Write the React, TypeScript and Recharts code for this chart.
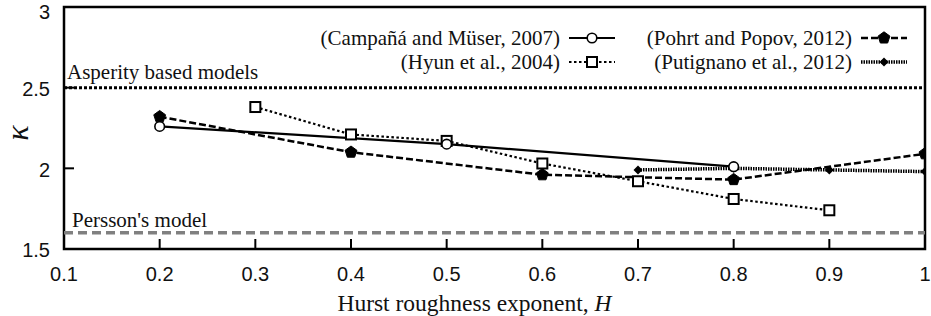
import React from 'react';
import { LineChart, Line, XAxis, YAxis, ReferenceLine, ReferenceArea } from 'recharts';

const SERIF = '"Liberation Serif", "Times New Roman", serif';
const SANS = '"Liberation Sans", Arial, sans-serif';

const xTicks = [0.1, 0.2, 0.3, 0.4, 0.5, 0.6, 0.7, 0.8, 0.9, 1];
const xTickLabels = ['0.1', '0.2', '0.3', '0.4', '0.5', '0.6', '0.7', '0.8', '0.9', '1'];
const yTicks = [1.5, 2, 2.5, 3];
const yTickLabels = ['1.5', '2', '2.5', '3'];

const campanaH = [0.2, 0.5, 0.8];
const campanaK = [2.26, 2.15, 2.01];
const pohrtH = [0.2, 0.4, 0.6, 0.8, 1.0];
const pohrtK = [2.32, 2.1, 1.96, 1.93, 2.09];
const hyunH = [0.3, 0.4, 0.5, 0.6, 0.7, 0.8, 0.9];
const hyunK = [2.38, 2.21, 2.17, 2.03, 1.92, 1.81, 1.74];
const putH = [0.7, 0.8, 0.9, 1.0];
const putK = [1.99, 2.0, 1.99, 1.98];

const asperityValue = 2.5;
const perssonValue = 1.6;
const asperityText = 'Asperity based models';
const perssonText = "Persson's model";

const seriesNames = [
  '(Campañá and Müser, 2007)',
  '(Pohrt and Popov, 2012)',
  '(Hyun et al., 2004)',
  '(Putignano et al., 2012)',
];

const toRows = (h: number[], k: number[]) => h.map((x, i) => ({ h: x, k: k[i] }));
const campanaData = toRows(campanaH, campanaK);
const pohrtData = toRows(pohrtH, pohrtK);
const hyunData = toRows(hyunH, hyunK);
const putData = toRows(putH, putK);

const pentagonPoints = (cx: number, cy: number, r: number) =>
  [0, 1, 2, 3, 4]
    .map((i) => {
      const a = ((-90 + i * 72) * Math.PI) / 180;
      return `${cx + r * Math.cos(a)},${cy + r * Math.sin(a)}`;
    })
    .join(' ');

const circleShape = (cx: number, cy: number, key?: any) => (
  <circle key={key} cx={cx} cy={cy} r={4.8} fill="#fff" stroke="#000" strokeWidth={1.6} />
);
const pentagonShape = (cx: number, cy: number, key?: any) => (
  <polygon key={key} points={pentagonPoints(cx, cy, 6.2)} fill="#000" stroke="#000" strokeWidth={1} />
);
const squareShape = (cx: number, cy: number, key?: any) => (
  <rect key={key} x={cx - 5} y={cy - 5} width={10} height={10} fill="#fff" stroke="#000" strokeWidth={2} />
);
const diamondShape = (cx: number, cy: number, key?: any) => (
  <polygon key={key} points={`${cx},${cy - 4.5} ${cx + 4.5},${cy} ${cx},${cy + 4.5} ${cx - 4.5},${cy}`} fill="#000" />
);

const dotOf = (fn: any) => (p: any) => {
  if (p.cx == null || p.cy == null) return <g key={p.key ?? p.index} />;
  return fn(p.cx, p.cy, p.key ?? `d${p.index}`);
};

const XTick = (p: any) => {
  const i = xTicks.indexOf(p.payload.value);
  return (
    <g>
      <line x1={p.x} x2={p.x} y1={p.y} y2={p.y - 10} stroke="#000" strokeWidth={2} />
      <text x={p.x} y={p.y + 32} textAnchor="middle" fontFamily={SANS} fontSize={20} fill="#111">
        {xTickLabels[i]}
      </text>
    </g>
  );
};

const YTickLeft = (p: any) => {
  const i = yTicks.indexOf(p.payload.value);
  const baseline = Math.max(p.y + 8.4, 18.5);
  return (
    <g>
      <line x1={p.x} x2={p.x + 10} y1={p.y} y2={p.y} stroke="#000" strokeWidth={2} />
      <text x={p.x - 14} y={baseline} textAnchor="end" fontFamily={SANS} fontSize={20} fill="#111">
        {yTickLabels[i]}
      </text>
    </g>
  );
};

const YTickRight = (p: any) => (
  <line x1={p.x} x2={p.x - 10} y1={p.y} y2={p.y} stroke="#000" strokeWidth={2} />
);

const XTitle = (p: any) => {
  const vb = p.viewBox || { x: 64, y: 249, width: 861, height: 67 };
  return (
    <text x={vb.x + vb.width / 2 - 20} y={vb.y + 62} textAnchor="middle" fontFamily={SERIF} fontSize={23.5} fill="#111">
      Hurst roughness exponent, <tspan fontStyle="italic">H</tspan>
    </text>
  );
};

const YTitle = (p: any) => {
  const vb = p.viewBox || { x: 0, y: 7, width: 64, height: 242 };
  const cx = vb.x + 17;
  const cy = vb.y + vb.height / 2 + 5;
  return (
    <text
      x={cx}
      y={cy}
      transform={`rotate(-90, ${cx}, ${cy})`}
      textAnchor="middle"
      dominantBaseline="central"
      fontFamily={SERIF}
      fontStyle="italic"
      fontSize={32}
      fill="#111"
    >
      κ
    </text>
  );
};

const RefText = (p: any) => {
  const vb = p.viewBox || { x: 64, y: 0 };
  return (
    <text x={vb.x + p.dx} y={vb.y + p.dy} fontFamily={SERIF} fontSize={21} fill="#111">
      {p.text}
    </text>
  );
};

const legendItems = [
  { name: seriesNames[0], textEnd: 560, y: 38, dash: undefined, width: 2.2, shape: circleShape },
  { name: seriesNames[1], textEnd: 852, y: 38, dash: '7 3', width: 2.5, shape: pentagonShape },
  { name: seriesNames[2], textEnd: 560, y: 62, dash: '2.5 2.5', width: 2.2, shape: squareShape },
  { name: seriesNames[3], textEnd: 852, y: 62, dash: '1.5 1', width: 3.5, shape: diamondShape },
];

export default function App() {
  return (
    <div style={{ position: 'absolute', left: 0, top: 0, width: 931, height: 316, background: '#fff' }}>
      <LineChart width={931} height={316} margin={{ top: 7, right: 6, bottom: 0, left: 0 }}>
        <XAxis
          dataKey="h"
          type="number"
          domain={[0.1, 1]}
          ticks={xTicks}
          interval={0}
          allowDataOverflow
          axisLine={false}
          tickLine={false}
          tickSize={0}
          tickMargin={0}
          height={67}
          tick={XTick}
          label={<XTitle />}
        />
        <YAxis
          yAxisId="l"
          type="number"
          domain={[1.5, 3]}
          ticks={yTicks}
          interval={0}
          allowDataOverflow
          axisLine={false}
          tickLine={false}
          tickSize={0}
          tickMargin={0}
          width={64}
          tick={YTickLeft}
          label={<YTitle />}
        />
        <YAxis
          yAxisId="r"
          orientation="right"
          type="number"
          domain={[1.5, 3]}
          ticks={yTicks}
          interval={0}
          allowDataOverflow
          axisLine={false}
          tickLine={false}
          tickSize={0}
          tickMargin={0}
          width={0}
          tick={YTickRight}
        />
        <ReferenceLine
          yAxisId="l"
          y={asperityValue}
          stroke="#000"
          strokeWidth={3}
          strokeDasharray="3 2"
          label={<RefText text={asperityText} dx={3} dy={-9} />}
        />
        <ReferenceLine
          yAxisId="l"
          y={perssonValue}
          stroke="#808080"
          strokeWidth={3.5}
          strokeDasharray="9 5"
          label={<RefText text={perssonText} dx={8} dy={-6} />}
        />
        <Line
          yAxisId="l"
          data={putData}
          dataKey="k"
          stroke="#000"
          strokeWidth={3.5}
          strokeDasharray="1.5 1"
          dot={dotOf(diamondShape)}
          isAnimationActive={false}
        />
        <Line
          yAxisId="l"
          data={hyunData}
          dataKey="k"
          stroke="#000"
          strokeWidth={2.2}
          strokeDasharray="2.5 2.5"
          dot={dotOf(squareShape)}
          isAnimationActive={false}
        />
        <Line
          yAxisId="l"
          data={pohrtData}
          dataKey="k"
          stroke="#000"
          strokeWidth={2.5}
          strokeDasharray="7 3"
          dot={dotOf(pentagonShape)}
          isAnimationActive={false}
        />
        <Line
          yAxisId="l"
          data={campanaData}
          dataKey="k"
          stroke="#000"
          strokeWidth={2.2}
          dot={dotOf(circleShape)}
          isAnimationActive={false}
        />
        <ReferenceArea
          yAxisId="l"
          x1={0.1}
          x2={1}
          y1={1.5}
          y2={3}
          fill="none"
          fillOpacity={0}
          stroke="#000"
          strokeWidth={2.5}
        />
      </LineChart>
      <svg
        width={931}
        height={316}
        style={{ position: 'absolute', left: 0, top: 0, pointerEvents: 'none' }}
      >
        {legendItems.map((it, i) => (
          <g key={i}>
            <text x={it.textEnd} y={it.y + 7} textAnchor="end" fontFamily={SERIF} fontSize={21} fill="#111">
              {it.name}
            </text>
            <line
              x1={it.textEnd + 9}
              x2={it.textEnd + 55}
              y1={it.y}
              y2={it.y}
              stroke="#000"
              strokeWidth={it.width}
              strokeDasharray={it.dash}
            />
            {it.shape(it.textEnd + 32, it.y)}
          </g>
        ))}
      </svg>
    </div>
  );
}
